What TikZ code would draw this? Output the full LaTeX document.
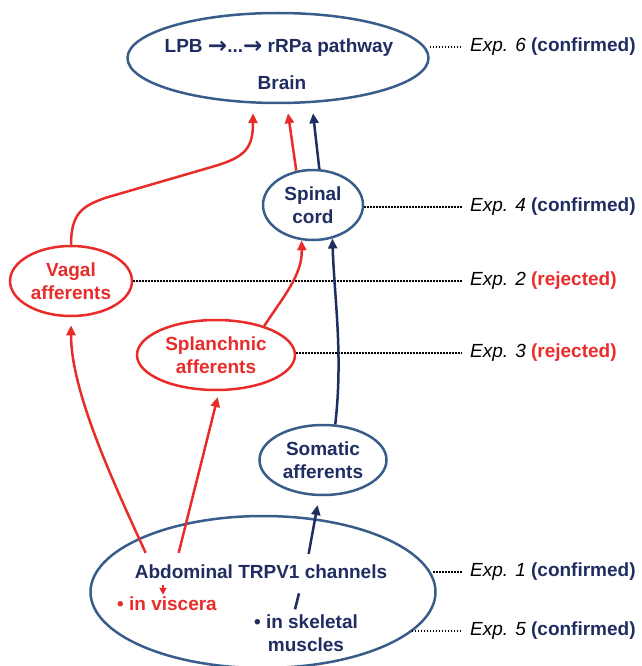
\documentclass[tikz,border=0pt]{standalone}
\usepackage{fontspec}
\setmainfont{Liberation Sans}
\newfontfamily\arrowfont{DejaVu Sans}
\usepackage{tikz}
\usepackage{xcolor}
\usetikzlibrary{calc,positioning,arrows.meta,shapes.geometric}
\definecolor{navy}{RGB}{31,45,96}
\definecolor{ovalblue}{RGB}{56,93,138}
\definecolor{tred}{RGB}{232,44,42}
\tikzset{
>={Triangle[length=10pt,width=9pt]},
  oval/.style={
    ellipse,
    draw=ovalblue, line width=2.5pt,
    inner sep=0pt,
    align=center,
    font=\fontsize{19}{23}\selectfont\bfseries},
  redoval/.style={oval, draw=tred, text=tred},
  blueoval/.style={oval, text=navy},
  lbl/.style={font=\fontsize{19}{23}\selectfont\bfseries, align=center, inner sep=0pt},
  explabel/.style={anchor=west, inner sep=4pt, font=\fontsize{19}{23}\selectfont},
  redline/.style={draw=tred, line width=2.5pt, ->},
  navyline/.style={draw=navy, line width=2.5pt, ->},
  dotline/.style={draw=black, line width=1.6pt, dash pattern=on 1.6pt off 1.4pt, shorten >=4pt},
}
\newcommand{\conf}{{\upshape\bfseries\color{navy}(confirmed)}}
\newcommand{\rej}{{\upshape\bfseries\color{tred}(rejected)}}
\newcommand{\pathto}{\raisebox{-1pt}{\arrowfont\bfseries\fontsize{23}{23}\selectfont →}}

\begin{document}
\begin{tikzpicture}[x=1pt, y=-1pt]
    \useasboundingbox (0,0) rectangle (641,666);

    % ovals
    \node[blueoval, minimum width=301pt, minimum height=90pt] (brain) at (278,58) {};
    \node[lbl, text=navy] (lpb) at (279,48) {LPB \pathto...\pathto\ rRPa pathway};
    \node[lbl, text=navy] (braintxt) at (282,83) {Brain};
    \node[blueoval, minimum width=100pt, minimum height=70pt] (spinal) at (313,205) {Spinal\\cord};
    \node[redoval, minimum width=122pt, minimum height=70pt] (vagal) at (71,281) {Vagal\\afferents};
    \node[redoval, minimum width=158pt, minimum height=70pt] (splanchnic) at (216,355) {Splanchnic\\afferents};
    \node[blueoval, minimum width=127pt, minimum height=70pt] (somatic) at (323,460) {Somatic\\afferents};
    \node[blueoval, minimum width=345pt, minimum height=152pt] (abdominal) at (263,592) {};
    \node[lbl, text=navy] (channels) at (261,572) {Abdominal TRPV1 channels};
    \node[lbl, text=tred] (viscera) at (167,604) {• in viscera};
    \node[lbl, text=navy] (skeletal) at (306,633) {• in skeletal\\muscles};

    % experiments
    \node[explabel] (exp6) at (466,47) {\itshape Exp. 6 \conf};
    \node[explabel] (exp4) at (466,207) {\itshape Exp. 4 \conf};
    \node[explabel] (exp2) at (466,281) {\itshape Exp. 2 \rej};
    \node[explabel] (exp3) at (466,353) {\itshape Exp. 3 \rej};
    \node[explabel] (exp1) at (466,572) {\itshape Exp. 1 \conf};
    \node[explabel] (exp5) at (466,631) {\itshape Exp. 5 \conf};

    \draw[dotline] (exp6.west -| brain.east) -- (exp6.west);
    \draw[dotline] (exp4.west -| spinal.east) -- (exp4.west);
    \draw[dotline] (exp2.west -| vagal.east) -- (exp2.west);
    \draw[dotline] (exp3.west -| splanchnic.east) -- (exp3.west);
    \draw[dotline] (abdominal.5 |- exp1.west) -- (exp1.west);
    \draw[dotline] (abdominal.-15 |- exp5.west) -- (exp5.west);

    % pathways
    \draw[redline] (vagal.north) .. controls +(0,-32) and +(-22,8) .. (105,198)
        -- (215,166) .. controls +(30,-9) and +(0,35) .. ($(brain.south)+(-25,9)$);
    \draw[redline] (spinal.116) -- ($(brain.south)+(10,9)$);
    \draw[navyline] (spinal.80) -- ($(brain.south)+(35,9)$);
    \draw[redline] (splanchnic.31) .. controls +(18,-28) and +(1,35) .. (spinal.252);
    \draw[navyline] (somatic.71) .. controls +(8,-70) and +(2,60) .. (spinal.300);
    \draw[redline, shorten >=8pt] ($(channels.north west)+(11,-12)$) .. controls +(-33,-72) and +(0,74) .. (vagal.-90);
    \draw[redline, shorten >=6pt] ($(channels.north west)+(44,-12)$) -- (splanchnic.-85);
    \draw[navyline, shorten >=9pt] ($(channels.north west)+(174,-11)$) -- (somatic.-96);
    \draw[redline, -{Triangle[length=7pt,width=7pt]}] ($(viscera.north west)+(46,-12)$) -- ($(viscera.north west)+(46,-2)$);
    \draw[navy, line width=2.5pt] ($(skeletal.north)+(-11,-5)$) -- ($(skeletal.north)+(-7,-21)$);
\end{tikzpicture}
\end{document}
